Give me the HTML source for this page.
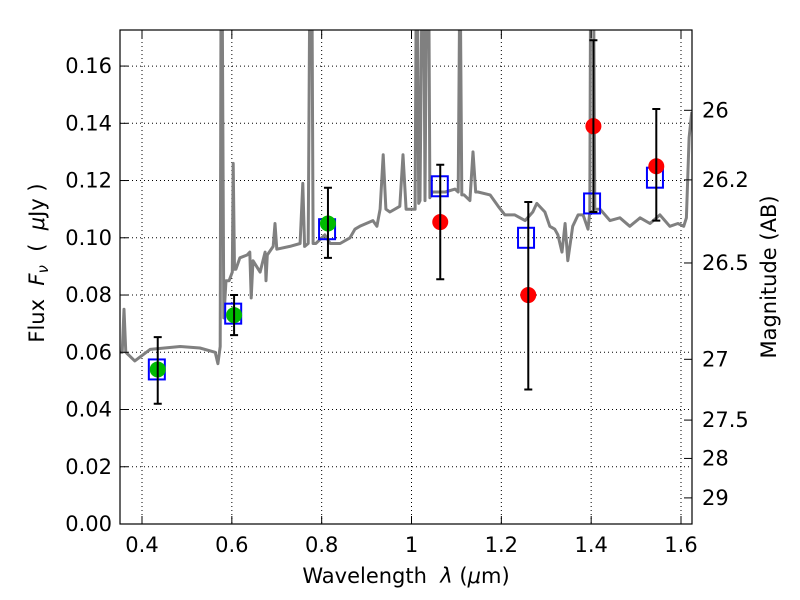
<!DOCTYPE html>
<html><head><meta charset="utf-8"><style>
body{margin:0;background:#fff;}
svg{display:block;font-family:"DejaVu Sans","Liberation Sans",sans-serif;}
</style></head><body>
<svg id="chart" width="800" height="600">
<rect width="800" height="600" fill="#fff"/>
<g id="grid"></g>
<g id="spec"></g>
<g id="marks"></g>
<rect x="120" y="30" width="572" height="494" fill="none" stroke="#000" stroke-width="1.2"/>
<g id="axes"></g>
<text x="406" y="583" text-anchor="middle" font-size="21" xml:space="preserve">Wavelength  <tspan font-style="italic">λ</tspan> (<tspan font-style="italic">μ</tspan>m)</text>
<text transform="translate(44,263) rotate(-90)" text-anchor="middle" font-size="21" xml:space="preserve">Flux  <tspan font-style="italic">F<tspan font-size="15" dy="4">ν</tspan></tspan><tspan dy="-4">  (  </tspan><tspan font-style="italic">μ</tspan>Jy )</text>
<text transform="translate(776,277) rotate(-90)" text-anchor="middle" font-size="21">Magnitude (AB)</text>
</svg>
<script>
const specWave=[0.351,0.356,0.360,0.364,0.384,0.418,0.485,0.529,0.563,0.569,0.574,0.576,0.578,0.582,0.587,0.594,0.601,0.603,0.606,0.609,0.618,0.634,0.640,0.643,0.647,0.663,0.674,0.676,0.679,0.692,0.696,0.700,0.729,0.752,0.758,0.762,0.770,0.774,0.776,0.778,0.781,0.787,0.807,0.819,0.841,0.863,0.874,0.885,0.914,0.923,0.930,0.937,0.943,0.952,0.974,0.981,0.988,1.008,1.011,1.013,1.016,1.019,1.024,1.027,1.030,1.034,1.038,1.041,1.046,1.050,1.057,1.075,1.097,1.104,1.108,1.112,1.117,1.130,1.137,1.143,1.148,1.175,1.193,1.208,1.230,1.253,1.270,1.279,1.297,1.308,1.319,1.326,1.335,1.342,1.348,1.359,1.371,1.382,1.393,1.397,1.399,1.405,1.408,1.420,1.442,1.464,1.486,1.509,1.531,1.553,1.575,1.593,1.606,1.612,1.618,1.624];
const specFlux=[0.060,0.060,0.075,0.060,0.057,0.061,0.062,0.0615,0.060,0.056,0.062,0.2,0.2,0.072,0.085,0.085,0.088,0.126,0.089,0.089,0.093,0.094,0.095,0.079,0.092,0.088,0.095,0.085,0.094,0.097,0.105,0.096,0.097,0.098,0.119,0.097,0.098,0.2,0.2,0.2,0.098,0.098,0.101,0.098,0.098,0.100,0.103,0.104,0.106,0.104,0.110,0.129,0.110,0.109,0.111,0.129,0.110,0.110,0.2,0.2,0.112,0.113,0.2,0.2,0.113,0.2,0.2,0.114,0.116,0.116,0.116,0.116,0.117,0.116,0.2,0.115,0.115,0.113,0.130,0.116,0.116,0.115,0.111,0.108,0.108,0.106,0.109,0.112,0.109,0.104,0.103,0.101,0.095,0.105,0.092,0.104,0.108,0.108,0.103,0.109,0.2,0.2,0.110,0.110,0.106,0.107,0.104,0.107,0.105,0.108,0.104,0.105,0.104,0.107,0.135,0.144,0.145,0.106];
const bandWave=[0.435,0.605,0.814,1.064,1.26,1.405,1.545];
const obsFlux=[0.054,0.073,0.105,0.1055,0.080,0.139,0.125];
const errHi=[0.0653,0.080,0.1175,0.1255,0.1125,0.169,0.145];
const errLo=[0.042,0.066,0.093,0.0855,0.047,0.109,0.106];
const obsColor=['#00bb00','#00bb00','#00bb00','#ff0000','#ff0000','#ff0000','#ff0000'];
const modelWave=[0.433,0.603,0.812,1.063,1.255,1.402,1.542];
const modelFlux=[0.054,0.0735,0.103,0.118,0.100,0.112,0.121];
const xTicks=[0.4,0.6,0.8,1,1.2,1.4,1.6];
const xTickLabels=['0.4','0.6','0.8','1','1.2','1.4','1.6'];
const yTicks=[0,0.02,0.04,0.06,0.08,0.10,0.12,0.14,0.16];
const yTickLabels=['0.00','0.02','0.04','0.06','0.08','0.10','0.12','0.14','0.16'];
const magTicks=[26,26.2,26.5,27,27.5,28,29];
const magTickLabels=['26','26.2','26.5','27','27.5','28','29'];

const X0=0.351,X1=1.6245,Y0=0,Y1=0.1726,L=120,R=692,T=30,B=524;
const xs=w=>L+(w-X0)/(X1-X0)*(R-L);
const ys=f=>B-(f-Y0)/(Y1-Y0)*(B-T);
const magToFlux=m=>Math.pow(10,(23.9-m)/2.5);
const NS='http://www.w3.org/2000/svg';
function mk(tag,attrs,parent){const e=document.createElementNS(NS,tag);for(const k in attrs)e.setAttribute(k,attrs[k]);parent.appendChild(e);return e;}
const grid=document.getElementById('grid'),axes=document.getElementById('axes'),spec=document.getElementById('spec'),marks=document.getElementById('marks');

xTicks.forEach((t,i)=>{const x=xs(t);
 let g=mk('line',{x1:x,x2:x,y1:T,y2:B,stroke:'#000','stroke-width':1,'stroke-dasharray':'1,3'},grid);
 
 let a=mk('line',{x1:x,x2:x,y1:B,y2:B-8,stroke:'#000'},axes);
 
 let b=mk('line',{x1:x,x2:x,y1:T,y2:T+8,stroke:'#000'},axes);
 
 let l=mk('text',{x:x,y:B+28,'text-anchor':'middle','font-size':21},axes);l.textContent=xTickLabels[i];
 });
yTicks.forEach((t,i)=>{const y=ys(t);
 if(i>0){let g=mk('line',{x1:L,x2:R,y1:y,y2:y,stroke:'#000','stroke-width':1,'stroke-dasharray':'1,3'},grid);
 }
 let a=mk('line',{x1:L,x2:L+8,y1:y,y2:y,stroke:'#000'},axes);
 
 let l=mk('text',{x:L-8,y:y+7,'text-anchor':'end','font-size':21},axes);l.textContent=yTickLabels[i];
 });
magTicks.forEach((m,i)=>{const y=ys(magToFlux(m));
 let a=mk('line',{x1:R-8,x2:R,y1:y,y2:y,stroke:'#000'},axes);
 
 let l=mk('text',{x:R+10,y:y+7,'font-size':21},axes);l.textContent=magTickLabels[i];
 });

const cp=mk('clipPath',{id:'clip'},spec);mk('rect',{x:L,y:T,width:R-L,height:B-T},cp);
let d=specWave.map((w,i)=>(i?'L':'M')+xs(w).toFixed(1)+','+ys(specFlux[i]).toFixed(1)).join('');
let p=mk('path',{d:d,fill:'none',stroke:'#808080','stroke-width':3,'stroke-linejoin':'round','clip-path':'url(#clip)'},spec);


modelWave.forEach((w,i)=>{const x=xs(w),y=ys(modelFlux[i]);
 let s=mk('rect',{x:x-8,y:y-10,width:16,height:20,fill:'none',stroke:'#0000ff','stroke-width':2},marks);
 });
bandWave.forEach((w,i)=>{const x=xs(w);
 let c=mk('circle',{cx:x,cy:ys(obsFlux[i]),r:8,fill:obsColor[i]},marks);
 
 let e=mk('path',{d:`M${x},${ys(errHi[i])}V${ys(errLo[i])}M${x-4},${ys(errHi[i])}h8M${x-4},${ys(errLo[i])}h8`,stroke:'#000','stroke-width':2,fill:'none'},marks);
 });
</script>
</body></html>
